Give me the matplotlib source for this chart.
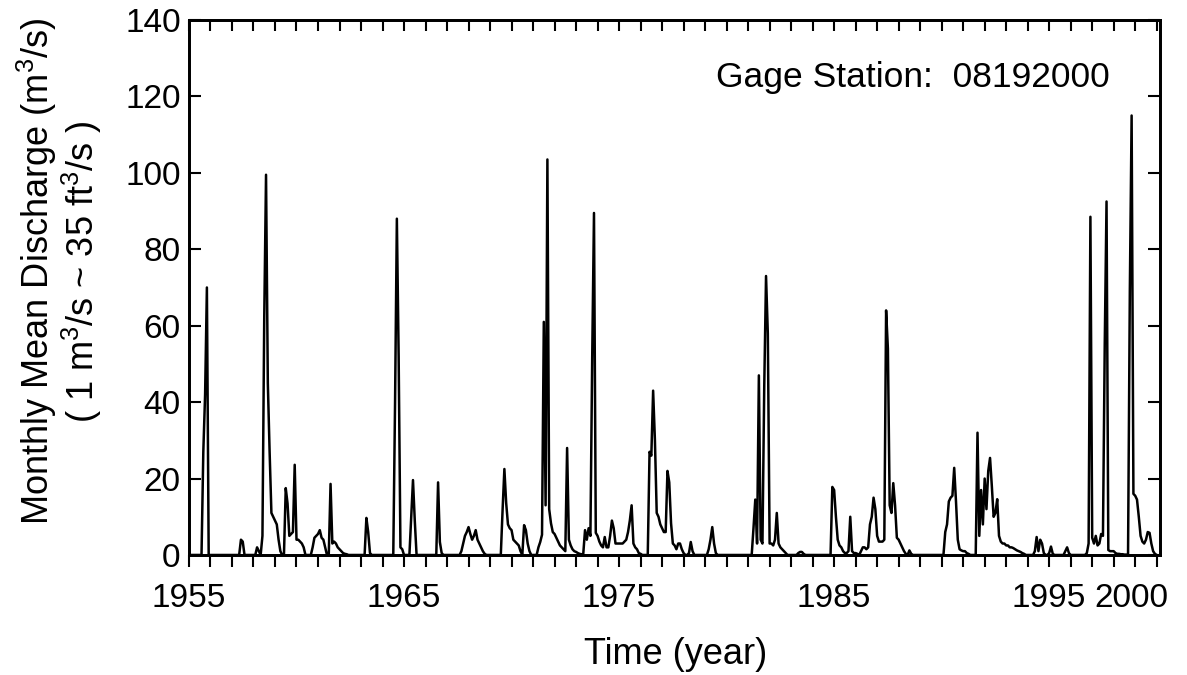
import matplotlib
matplotlib.use("Agg")
import matplotlib.pyplot as plt
import matplotlib.transforms as mtransforms
import numpy as np

# monthly mean discharge (m3/s), Jan..Dec
q_1955_1964 = [
    0, 0, 0, 0, 0, 0, 0, 0, 27, 42, 70, 0,            # 1955
    0, 0, 0, 0, 0, 0, 0, 0, 0, 0, 0, 0,               # 1956
    0, 0, 0, 0, 0, 4, 3.5, 0, 0, 0, 0, 0,             # 1957
    0, 0, 2, 1, 0, 5, 62, 99.5, 45, 27, 11, 10,       # 1958
    9, 8, 4, 1, 0, 0, 17.5, 13.5, 5, 5.5, 6, 23.6,    # 1959
    4, 4, 3.5, 3, 2, 0, 0, 0, 0, 2, 4.5, 5,           # 1960
    5.5, 6.5, 4.5, 4, 2, 0, 0, 18.6, 3, 3.5, 3, 2,    # 1961
    1.5, 1, 0.5, 0.3, 0.2, 0, 0, 0, 0, 0, 0, 0,       # 1962
    0, 0, 0, 9.7, 6, 0.5, 0, 0, 0, 0, 0, 0,           # 1963
    0, 0, 0, 0, 0, 0, 0, 40, 88, 52, 2, 1.5,          # 1964
]
q_1965_1974 = [
    0, 0, 0, 0, 10, 19.6, 9, 0, 0, 0, 0, 0,           # 1965
    0, 0, 0, 0, 0, 0, 0, 19, 3.4, 0.5, 0, 0,          # 1966
    0, 0, 0, 0, 0, 0, 0, 0, 1, 3, 5, 6,               # 1967
    7.3, 5.5, 4, 5, 6.5, 4, 3, 2, 1, 0.3, 0, 0,       # 1968
    0, 0, 0, 0, 0, 0, 0, 11.8, 22.5, 13.6, 8, 7,      # 1969
    6.5, 4, 3.5, 3, 2.5, 1, 0, 7.8, 6.5, 3, 1, 0,     # 1970
    0, 0, 0, 2, 3.4, 5.3, 61, 13, 103.5, 12, 8.3, 6,  # 1971
    5.5, 4.5, 3.5, 2.5, 2, 1.5, 1, 28, 4, 2.5, 1.5, 1,  # 1972
    0.8, 0.5, 0.3, 0.2, 0.2, 6.5, 4, 7, 5, 51.5, 89.5, 5.8,  # 1973
    5, 3.5, 2.5, 2, 4.7, 2, 2, 5, 9, 7, 3, 3,         # 1974
]
q_1975_1984 = [
    3, 3, 3, 3.5, 4, 6, 9, 13, 3, 2, 1.5, 0.5,        # 1975
    0.3, 0, 0, 0, 0, 27, 26, 43, 30, 11, 10, 8,       # 1976
    7, 6, 6, 22, 19, 8.3, 3, 2.5, 1.5, 3, 3, 1.5,     # 1977
    0.5, 0, 0, 0.5, 3.4, 1, 0, 0, 0, 0, 0, 0,         # 1978
    0, 0, 1.5, 4, 7.3, 3, 0.5, 0, 0, 0, 0, 0,         # 1979
    0, 0, 0, 0, 0, 0, 0, 0, 0, 0, 0, 0,               # 1980
    0, 0, 0, 7, 14.5, 3, 47, 4, 3, 44, 73, 58,        # 1981
    3, 3, 2.5, 4, 11, 3, 2, 1.5, 1, 0.5, 0, 0,        # 1982
    0, 0, 0, 0, 0.5, 0.8, 0.8, 0.3, 0, 0, 0, 0,       # 1983
    0, 0, 0, 0, 0, 0, 0, 0, 0, 0, 0, 17.8,            # 1984
]
q_1985_1994 = [
    17, 10, 4, 2.5, 2, 1, 0.5, 0.5, 1, 10, 1, 0.5,    # 1985
    0.5, 0.3, 0, 1, 2, 2, 1.5, 2, 8, 10, 15, 12,      # 1986
    5, 3.5, 3.5, 3.5, 4, 64, 54, 13, 11, 18.8, 13, 4.5,  # 1987
    4, 3, 2, 1, 0.3, 0, 1.2, 0.3, 0, 0, 0, 0,         # 1988
    0, 0, 0, 0, 0, 0, 0, 0, 0, 0, 0, 0,               # 1989
    0, 0, 6, 8, 14, 15, 15.5, 22.8, 14, 4, 1.5, 1.2,  # 1990
    1, 1, 0.5, 0.3, 0, 0, 0, 0, 32, 5, 17, 8,         # 1991
    20, 12, 22, 25.4, 18, 10, 11, 14.6, 5, 3.5, 3, 3,  # 1992
    2.5, 2.5, 2, 2, 1.8, 1.5, 1.2, 1, 0.8, 0.5, 0.3, 0,  # 1993
    0, 0, 0, 0, 1, 4.7, 1, 4, 3, 0.5, 0, 0,           # 1994
]
q_1995_2000 = [
    0.5, 2.2, 0.3, 0, 0, 0, 0, 0, 0, 1, 2, 0.5,       # 1995
    0, 0, 0, 0, 0, 0, 0, 0, 0, 0.5, 3, 88.5,          # 1996
    4.5, 3, 5, 2.5, 3, 5.5, 5, 55, 92.5, 1.3, 1, 1,   # 1997
    1, 0.5, 0.3, 0.3, 0.2, 0.2, 0.1, 0.1, 0.1, 69, 115, 16,  # 1998
    15.5, 14.5, 10, 5, 3.5, 3, 4, 6, 5.8, 3, 1, 0.3,  # 1999
    0,                                                # 2000
]

labelled_years = [1955, 1965, 1975, 1985, 1995, 2000]
station_id = "08192000"

discharge = np.array(q_1955_1964 + q_1965_1974 + q_1975_1984 + q_1985_1994 + q_1995_2000)
time = 1955 + np.arange(len(discharge)) / 12.0

plt.rcParams['font.family'] = ['Liberation Sans', 'DejaVu Sans']
plt.rcParams['mathtext.fontset'] = 'custom'
plt.rcParams['mathtext.rm'] = 'Liberation Sans'
plt.rcParams['mathtext.it'] = 'Liberation Sans:italic'
plt.rcParams['mathtext.bf'] = 'Liberation Sans:bold'

fig = plt.figure(figsize=(11.87, 6.75), dpi=100)
ax = fig.add_axes([0.1592, 0.1778, 0.818, 0.7926])

ax.plot(time, discharge, color='black', linewidth=1.8)

ax.set_xlim(1955, 2000.15)
ax.set_ylim(0, 140)

years = np.arange(1955, 2001)
ax.set_xticks(years)
ax.set_xticklabels([str(y) if y in labelled_years else '' for y in years])
ax.set_yticks(np.arange(0, 141, 20))

ax.tick_params(axis='x', direction='out', length=8.5, width=1.5,
               labelsize=24, pad=12)
ax.tick_params(axis='y', direction='in', length=8.5, width=1.5,
               labelsize=24, pad=6, left=True, right=True)

# top axis: yearly ticks pointing inward, no labels
top = ax.twiny()
top.set_xlim(ax.get_xlim())
top.set_xticks(years)
top.tick_params(axis='x', direction='in', length=8, width=1.5, labeltop=False)

for a in (ax, top):
    for sp in a.spines.values():
        sp.set_linewidth(2)

# "2000" label sits closer to 1995 in the original
for lab in ax.get_xticklabels():
    if lab.get_text() == '2000':
        lab.set_transform(lab.get_transform() +
                          mtransforms.ScaledTranslation(-0.25, 0, fig.dpi_scale_trans))

ax.text(0.9485, 0.8748, "Gage Station:  " + station_id, transform=ax.transAxes,
        ha='right', va='baseline', fontsize=25.5)

fig.text(0.5695, 0.03, "Time (year)", ha='center', va='center', fontsize=26)
fig.text(0.031, 0.598, "Monthly Mean Discharge (m$^3$/s)", rotation=90,
         ha='center', va='center', fontsize=26)
fig.text(0.069, 0.598, "( 1 m$^3$/s ~ 35 ft$^3$/s )", rotation=90,
         ha='center', va='center', fontsize=26)

fig.savefig("out.png", dpi=100, facecolor='white')
